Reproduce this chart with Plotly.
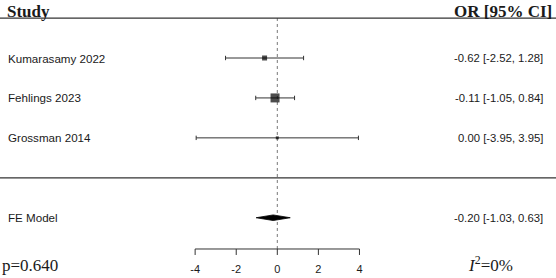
import plotly.graph_objects as go

# ---- data ----
studies = ["Kumarasamy 2022", "Fehlings 2023", "Grossman 2014"]
est = [-0.62, -0.11, 0.00]
ci_lo = [-2.52, -1.05, -3.95]
ci_hi = [1.28, 0.84, 3.95]
weights_px = [5, 9, 3]  # marker size per study (visual weight)
model_label = "FE Model"
model_est = -0.20
model_lo = -1.03
model_hi = 0.63
tick_vals = [-4, -2, 0, 2, 4]
p_text = "p=0.640"
i2_text = "<i>I</i><sup>2</sup>=0%"

W, H = 556, 278
SERIF = "Liberation Serif"
SANS = "Liberation Sans"
INK = "#1a1a1a"
LINE = "#333333"

Y_LO, Y_HI = 0.4904, 7.4525

k = len(studies)
study_rows = [k + 3 - i for i in range(k)]  # 6,5,4
model_row = 2
sep_row = 3
top_row = 7
axis_row = 1.217
tick_len = 0.15
label_row = 0.678

fig = go.Figure()

# zero reference line (dotted)
fig.add_trace(go.Scatter(x=[0, 0], y=[axis_row, top_row], mode="lines",
                         line=dict(color="#777777", width=1, dash="dot"),
                         hoverinfo="skip"))

# study estimates with CI
fig.add_trace(go.Scatter(
    x=est, y=study_rows, mode="markers",
    marker=dict(symbol="square", size=weights_px, color="black", line=dict(width=0)),
    error_x=dict(type="data", symmetric=False,
                 array=[h - e for h, e in zip(ci_hi, est)],
                 arrayminus=[e - l for e, l in zip(est, ci_lo)],
                 color=LINE, thickness=1, width=2.2),
    hoverinfo="skip"))

# summary diamond
dh = 0.07
fig.add_trace(go.Scatter(
    x=[model_lo, model_est, model_hi, model_est, model_lo],
    y=[model_row, model_row + dh, model_row, model_row - dh, model_row],
    mode="lines", fill="toself", fillcolor="black",
    line=dict(color="black", width=0.8), hoverinfo="skip"))

# custom x axis (line + ticks + labels)
fig.add_trace(go.Scatter(x=[tick_vals[0], tick_vals[-1]], y=[axis_row, axis_row],
                         mode="lines", line=dict(color=LINE, width=1), hoverinfo="skip"))
tx, ty = [], []
for t in tick_vals:
    tx += [t, t, None]
    ty += [axis_row, axis_row - tick_len, None]
fig.add_trace(go.Scatter(x=tx, y=ty, mode="lines", line=dict(color=LINE, width=1),
                         hoverinfo="skip"))
fig.add_trace(go.Scatter(x=tick_vals, y=[label_row] * len(tick_vals), mode="text",
                         text=[str(t) for t in tick_vals],
                         textfont=dict(family=SANS, size=11, color=INK),
                         textposition="middle center", hoverinfo="skip"))

# horizontal rules
for r in (top_row, sep_row):
    fig.add_shape(type="line", xref="paper", yref="y", x0=0, x1=1, y0=r, y1=r,
                  line=dict(color=LINE, width=1.3))

ann = []
# headers
ann.append(dict(text="<b>Study</b>", x=6 / W, y=Y_HI, xanchor="left", yanchor="top",
                yshift=-1, font=dict(family=SERIF, size=17, color=INK)))
ann.append(dict(text="<b>OR [95% CI]</b>", x=553 / W, y=Y_HI, xanchor="right", yanchor="top",
                yshift=-1, font=dict(family=SERIF, size=17, color=INK)))
# study labels & values
for s, e, l, h, r in zip(studies, est, ci_lo, ci_hi, study_rows):
    ann.append(dict(text=s, x=7 / W, y=r, xanchor="left", yanchor="middle",
                    font=dict(family=SANS, size=11.6, color=INK)))
    ann.append(dict(text=f"{e:.2f} [{l:.2f}, {h:.2f}]", x=544 / W, y=r,
                    xanchor="right", yanchor="middle",
                    font=dict(family=SANS, size=11.3, color=INK)))
ann.append(dict(text=model_label, x=7 / W, y=model_row, xanchor="left", yanchor="middle",
                font=dict(family=SANS, size=11.6, color=INK)))
ann.append(dict(text=f"{model_est:.2f} [{model_lo:.2f}, {model_hi:.2f}]", x=544 / W, y=model_row,
                xanchor="right", yanchor="middle",
                font=dict(family=SANS, size=11.3, color=INK)))
# footer stats
ann.append(dict(text=p_text, x=1 / W, y=Y_LO, xanchor="left", yanchor="bottom",
                yshift=2, font=dict(family=SERIF, size=17, color=INK)))
ann.append(dict(text=i2_text, x=467 / W, y=Y_LO, xanchor="left", yanchor="bottom",
                yshift=2, font=dict(family=SERIF, size=17, color=INK)))
for a in ann:
    a.update(xref="paper", yref="y", showarrow=False, borderpad=0)

zero_px = 277.3
scale = 20.54
fig.update_layout(
    width=W, height=H, margin=dict(l=0, r=0, t=0, b=0),
    paper_bgcolor="white", plot_bgcolor="white", showlegend=False,
    annotations=ann, hovermode=False,
    xaxis=dict(range=[-zero_px / scale, (W - zero_px) / scale], visible=False, fixedrange=True),
    yaxis=dict(range=[Y_LO, Y_HI], visible=False, fixedrange=True),
)

fig.write_html("out.html")
